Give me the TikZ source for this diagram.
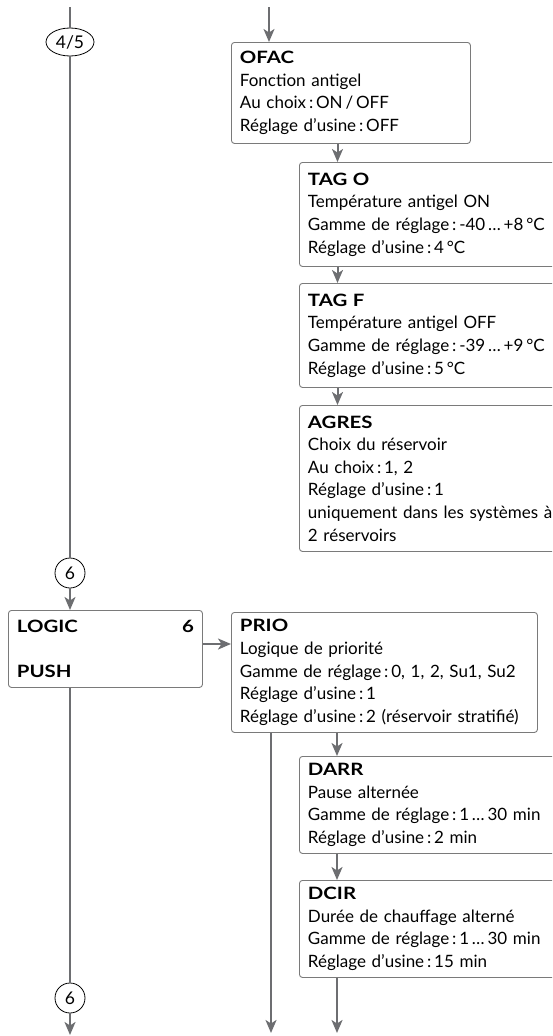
\documentclass[tikz,border=0pt]{standalone}
\usepackage{fontspec}
\setmainfont{Lato}
\newfontfamily\titlefont[FakeStretch=1.2]{Lato}
\usetikzlibrary{arrows.meta,shapes.geometric,calc}
\definecolor{linegray}{HTML}{6D6E71}
\definecolor{boxgray}{HTML}{7A7A7A}
\newcommand{\ttl}[1]{{\titlefont\bfseries #1}}
\tikzset{
  box/.style={draw=boxgray, line width=0.9pt, rounded corners=3pt, anchor=north west,
    inner xsep=8.5pt, inner ysep=0pt, align=left,
    font=\fontsize{17}{22.6}\selectfont},
  rbox/.style={box, text width=275pt},
  conn/.style={draw=linegray, line width=2pt},
  arr/.style={conn, -{Stealth[length=13pt,width=11pt,inset=3.5pt]}},
  badge/.style={draw=black, line width=0.8pt, inner sep=0pt, font=\fontsize{17.5}{20}\selectfont}
}
\begin{document}
\begin{tikzpicture}[x=1pt,y=-1pt]
\useasboundingbox (0,0) rectangle (552,1036);
\clip (0,0) rectangle (552,1036);

% boxes
\node[box, text width=222pt, minimum height=101pt] (ofac) at (231,42)
  {\ttl{OFAC}\\Fonction antigel\\Au choix\,:\,ON\,/\,OFF\\Réglage d’usine\,:\,OFF};
\node[rbox, minimum height=104pt] (tago) at (299,162)
  {\ttl{TAG O}\\Température antigel ON\\Gamme de réglage\,:\,-40\,…\,+8\,°C\\Réglage d’usine\,:\,4\,°C};
\node[rbox, minimum height=104pt] (tagf) at (299,283)
  {\ttl{TAG F}\\Température antigel OFF\\Gamme de réglage\,:\,-39\,…\,+9\,°C\\Réglage d’usine\,:\,5\,°C};
\node[rbox, minimum height=146pt] (agres) at (299,405)
  {\ttl{AGRES}\\Choix du réservoir\\Au choix\,:\,1, 2\\Réglage d’usine\,:\,1\\uniquement dans les systèmes à\\2 réservoirs};
\node[box, text width=177pt, minimum height=77pt] (logic) at (8,610)
  {\ttl{LOGIC}\hfill\ttl{6}\hspace*{5pt}\\\mbox{}\\\ttl{PUSH}};
\node[box, text width=289pt, minimum height=120pt] (prio) at (231,612)
  {\ttl{PRIO}\\Logique de priorité\\Gamme de réglage\,:\,0, 1, 2, Su1, Su2\\Réglage d’usine\,:\,1\\Réglage d’usine\,:\,2 (réservoir stratifié)};
\node[rbox, minimum height=97pt] (darr) at (299,756)
  {\ttl{DARR}\\Pause alternée\\Gamme de réglage\,:\,1\,…\,30 min\\Réglage d’usine\,:\,2 min};
\node[rbox, minimum height=97pt] (dcir) at (299,880)
  {\ttl{DCIR}\\Durée de chauffage alterné\\Gamme de réglage\,:\,1\,…\,30 min\\Réglage d’usine\,:\,15 min};

% badges
\node[badge, ellipse, minimum width=48pt, minimum height=28pt] (b45) at (70,42) {4/5};
\node[badge, circle, minimum size=30pt] (b6a) at (70,573) {6};
\node[badge, circle, minimum size=30pt] (b6b) at (70,998) {6};

% free ends and entry points
\coordinate (topL) at (70,7);
\coordinate (topR) at (269,7);
\coordinate (endL) at (70,1035);
\coordinate (endP) at (271,1033);
\coordinate (endD) at (337,1033);
\coordinate (inTO) at ($(tago.north west)+(38.5,0)$);
\coordinate (inTF) at ($(tagf.north west)+(38.5,0)$);
\coordinate (inAG) at ($(agres.north west)+(38.5,0)$);
\coordinate (inDA) at ($(darr.north west)+(38,0)$);
\coordinate (inDC) at ($(dcir.north west)+(38,0)$);
\coordinate (outLG) at ($(logic.north east)+(0,34)$);

% connectors
\draw[conn] (topL) -- (b45);
\draw[conn] (b45) -- (b6a);
\draw[arr] (b6a) -- (logic.north -| b6a);
\draw[conn] (logic.south -| b6a) -- (b6b);
\draw[arr] (b6b) -- (endL);

\draw[arr] (topR) -- (topR |- ofac.north);
\draw[arr] (inTO |- ofac.south) -- (inTO);
\draw[arr] (inTF |- tago.south) -- (inTF);
\draw[arr] (inAG |- tagf.south) -- (inAG);

\draw[arr] (outLG) -- (outLG -| prio.west);
\draw[arr] (endP |- prio.south) -- (endP);
\draw[arr] (inDA |- prio.south) -- (inDA);
\draw[arr] (inDC |- darr.south) -- (inDC);
\draw[arr] (endD |- dcir.south) -- (endD);
\end{tikzpicture}
\end{document}
